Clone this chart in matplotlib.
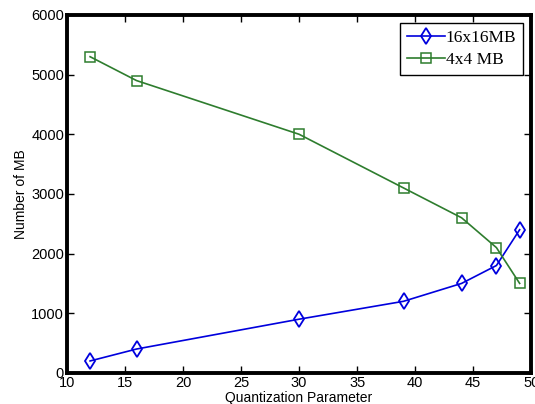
import matplotlib
matplotlib.use("Agg")
from matplotlib import pyplot as plt

# data
qp = [12, 16, 30, 39, 44, 47, 49]
mb16 = [200, 400, 900, 1200, 1500, 1800, 2400]
mb4 = [5300, 4900, 4000, 3100, 2600, 2100, 1500]
xticks = [10, 15, 20, 25, 30, 35, 40, 45, 50]
yticks = [0, 1000, 2000, 3000, 4000, 5000, 6000]

plt.rcParams['font.family'] = 'Liberation Sans'

fig = plt.figure(figsize=(5.35, 4.04), dpi=100)
ax = fig.add_axes([0.125, 0.077, 0.868, 0.886])

ax.plot(qp, mb16, color='#0000dd', lw=1.2, marker='d', ms=8.5,
        mfc='none', mec='#0000dd', mew=1.3, label='16x16MB')
ax.plot(qp, mb4, color='#2e7d2e', lw=1.2, marker='s', ms=7,
        mfc='none', mec='#2e7d2e', mew=1.1, label='4x4 MB')

ax.set_xlim(10, 50)
ax.set_ylim(0, 6000)
ax.set_xticks(xticks)
ax.set_yticks(yticks)
ax.tick_params(direction='in', top=True, right=True, length=5, width=1,
               labelsize=10.5, pad=2)
for s in ax.spines.values():
    s.set_linewidth(2.8)

ax.set_xlabel('Quantization Parameter', fontsize=10, labelpad=1)
ax.set_ylabel('Number of MB', fontsize=10, labelpad=2)

leg = ax.legend(loc='upper right', fancybox=False, edgecolor='black',
                framealpha=1, prop={'family': 'Liberation Serif', 'size': 12.5},
                handlelength=2.2, handletextpad=0.05, borderaxespad=0.45,
                labelspacing=0.35, borderpad=0.4)
leg.get_frame().set_linewidth(1.0)

fig.savefig('out.png', dpi=100)
